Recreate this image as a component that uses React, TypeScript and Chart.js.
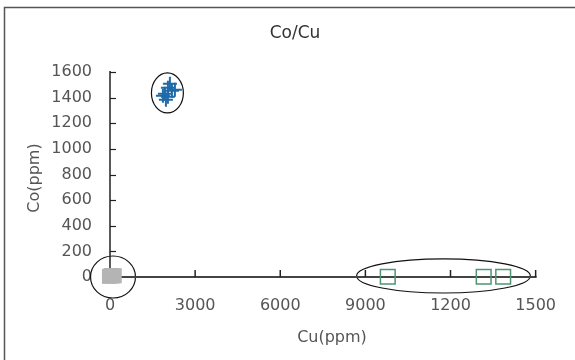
import React, { useEffect, useRef } from "react";
import { Chart, registerables } from "chart.js";

Chart.register(...registerables);

const chartTitle = "Co/Cu";
const xTitle = "Cu(ppm)";
const yTitle = "Co(ppm)";

const xTickValues = [0, 3000, 6000, 9000, 12000, 15000];
const xTickLabels = ["0", "3000", "6000", "9000", "1200", "1500"];
const yTickValues = [0, 200, 400, 600, 800, 1000, 1200, 1400, 1600];

// Gray filled squares (cluster near origin)
const grayCu = [-80, -20, 40, 100, 150];
const grayCo = [10, 5, 12, 8, 10];

// Blue crosses
const blueCu = [2041, 2111, 1935, 2182, 1865, 2041, 2287, 1970];
const blueCo = [1477, 1508, 1430, 1453, 1414, 1406, 1461, 1383];

// Green hollow squares
const greenCu = [9789, 13169, 13856];
const greenCo = [2, 2, 2];

// Ellipses in data units
const ellipseCenterCu = [2023, 106, 11752];
const ellipseCenterCo = [1437, 0, 8];
const ellipseRadiusCu = [563, 792, 3061];
const ellipseRadiusCo = [156, 164, 133];

const FONT = "'DejaVu Sans', sans-serif";

const toPts = (xs: number[], ys: number[]) => xs.map((x, i) => ({ x, y: ys[i] }));

const decorPlugin = {
  id: "decor",
  beforeDraw(chart: any) {
    const ctx = chart.ctx;
    ctx.save();
    ctx.fillStyle = "#ffffff";
    ctx.fillRect(0, 0, chart.width, chart.height);
    ctx.strokeStyle = "#555555";
    ctx.lineWidth = 1.5;
    ctx.beginPath();
    ctx.moveTo(4.5, chart.height + 2);
    ctx.lineTo(4.5, 7.5);
    ctx.lineTo(chart.width + 2, 7.5);
    ctx.stroke();
    ctx.restore();
  },
  beforeDatasetsDraw(chart: any) {
    const ctx = chart.ctx;
    const xs = chart.scales.x;
    const ys = chart.scales.y;
    ctx.save();
    ctx.strokeStyle = "#111111";
    ctx.lineWidth = 1.2;
    for (let i = 0; i < ellipseCenterCu.length; i++) {
      const cx = xs.getPixelForValue(ellipseCenterCu[i]);
      const cy = ys.getPixelForValue(ellipseCenterCo[i]);
      const rx = Math.abs(xs.getPixelForValue(ellipseCenterCu[i] + ellipseRadiusCu[i]) - cx);
      const ry = Math.abs(ys.getPixelForValue(ellipseCenterCo[i] + ellipseRadiusCo[i]) - cy);
      ctx.beginPath();
      ctx.ellipse(cx, cy, rx, ry, 0, 0, Math.PI * 2);
      ctx.stroke();
    }
    const x0 = xs.getPixelForValue(0);
    const y0 = ys.getPixelForValue(0);
    ctx.strokeStyle = "#222222";
    ctx.lineWidth = 1.5;
    ctx.beginPath();
    ctx.moveTo(x0, y0);
    ctx.lineTo(x0, ys.getPixelForValue(1600) - 1);
    ctx.stroke();
    ctx.lineWidth = 1.2;
    for (const v of yTickValues) {
      if (v === 0) continue;
      const py = Math.round(ys.getPixelForValue(v)) + 0.5;
      ctx.beginPath();
      ctx.moveTo(x0, py);
      ctx.lineTo(x0 + 6, py);
      ctx.stroke();
    }
    ctx.strokeStyle = "#444444";
    ctx.lineWidth = 2;
    ctx.beginPath();
    ctx.moveTo(x0, y0);
    ctx.lineTo(xs.getPixelForValue(15000) + 1, y0);
    ctx.stroke();
    ctx.lineWidth = 1.5;
    ctx.strokeStyle = "#222222";
    for (const v of xTickValues) {
      if (v === 0) continue;
      const px = xs.getPixelForValue(v);
      ctx.beginPath();
      ctx.moveTo(px, y0);
      ctx.lineTo(px, y0 - 7);
      ctx.stroke();
    }
    ctx.restore();
  },
  afterDraw(chart: any) {
    const ctx = chart.ctx;
    ctx.save();
    ctx.fillStyle = "#333333";
    ctx.textAlign = "center";
    ctx.textBaseline = "middle";
    ctx.font = `17px ${FONT}`;
    ctx.fillText(chartTitle, 295, 34);
    ctx.fillStyle = "#555555";
    ctx.font = `16px ${FONT}`;
    ctx.fillText(xTitle, 332, 338);
    ctx.translate(35, 178);
    ctx.rotate(-Math.PI / 2);
    ctx.fillText(yTitle, 0, 0);
    ctx.restore();
  },
};

export default function App() {
  const ref = useRef<HTMLCanvasElement | null>(null);
  useEffect(() => {
    if (!ref.current) return;
    const chart = new Chart(ref.current, {
      type: "scatter",
      data: {
        datasets: [
          {
            label: "gray",
            data: toPts(grayCu, grayCo),
            pointStyle: "rect",
            pointRadius: 10.6,
            backgroundColor: "#b4b4b4",
            borderColor: "#b4b4b4",
            borderWidth: 0,
            clip: false as any,
          },
          {
            label: "blue",
            data: toPts(blueCu, blueCo),
            pointStyle: "cross",
            pointRadius: 7,
            borderColor: "#1f6aa8",
            borderWidth: 2,
            clip: false as any,
          },
          {
            label: "green",
            data: toPts(greenCu, greenCo),
            pointStyle: "rect",
            pointRadius: 10.4,
            backgroundColor: "rgba(0,0,0,0)",
            borderColor: "#4f9473",
            borderWidth: 1.5,
            clip: false as any,
          },
        ],
      },
      options: {
        animation: false,
        responsive: true,
        maintainAspectRatio: false,
        layout: { padding: { left: 0, top: 72, right: 37, bottom: 0 } },
        plugins: {
          legend: { display: false },
          tooltip: { enabled: false },
          title: { display: false },
        },
        scales: {
          x: {
            type: "linear",
            min: 0,
            max: 15000,
            border: { display: false },
            grid: { display: false, drawTicks: false },
            afterFit: (s: any) => {
              s.height = 83;
            },
            afterBuildTicks: (s: any) => {
              s.ticks = xTickValues.map((v) => ({ value: v }));
            },
            ticks: {
              padding: 19,
              color: "#555555",
              font: { family: FONT, size: 16 },
              maxRotation: 0,
              autoSkip: false,
              callback: (v: any) => {
                const i = xTickValues.indexOf(Number(v));
                return i >= 0 ? xTickLabels[i] : "";
              },
            },
          },
          y: {
            type: "linear",
            min: 0,
            max: 1600,
            border: { display: false },
            grid: { display: false, drawTicks: false },
            afterFit: (s: any) => {
              s.width = 110;
            },
            afterBuildTicks: (s: any) => {
              s.ticks = yTickValues.map((v) => ({ value: v }));
            },
            ticks: {
              padding: 18,
              color: "#555555",
              font: { family: FONT, size: 16 },
              autoSkip: false,
              callback: (v: any) => String(v),
            },
          },
        },
      },
      plugins: [decorPlugin],
    });
    return () => chart.destroy();
  }, []);
  return (
    <div style={{ position: "fixed", left: 0, top: 0, width: 575, height: 360, background: "#fff" }}>
      <canvas ref={ref} />
    </div>
  );
}
